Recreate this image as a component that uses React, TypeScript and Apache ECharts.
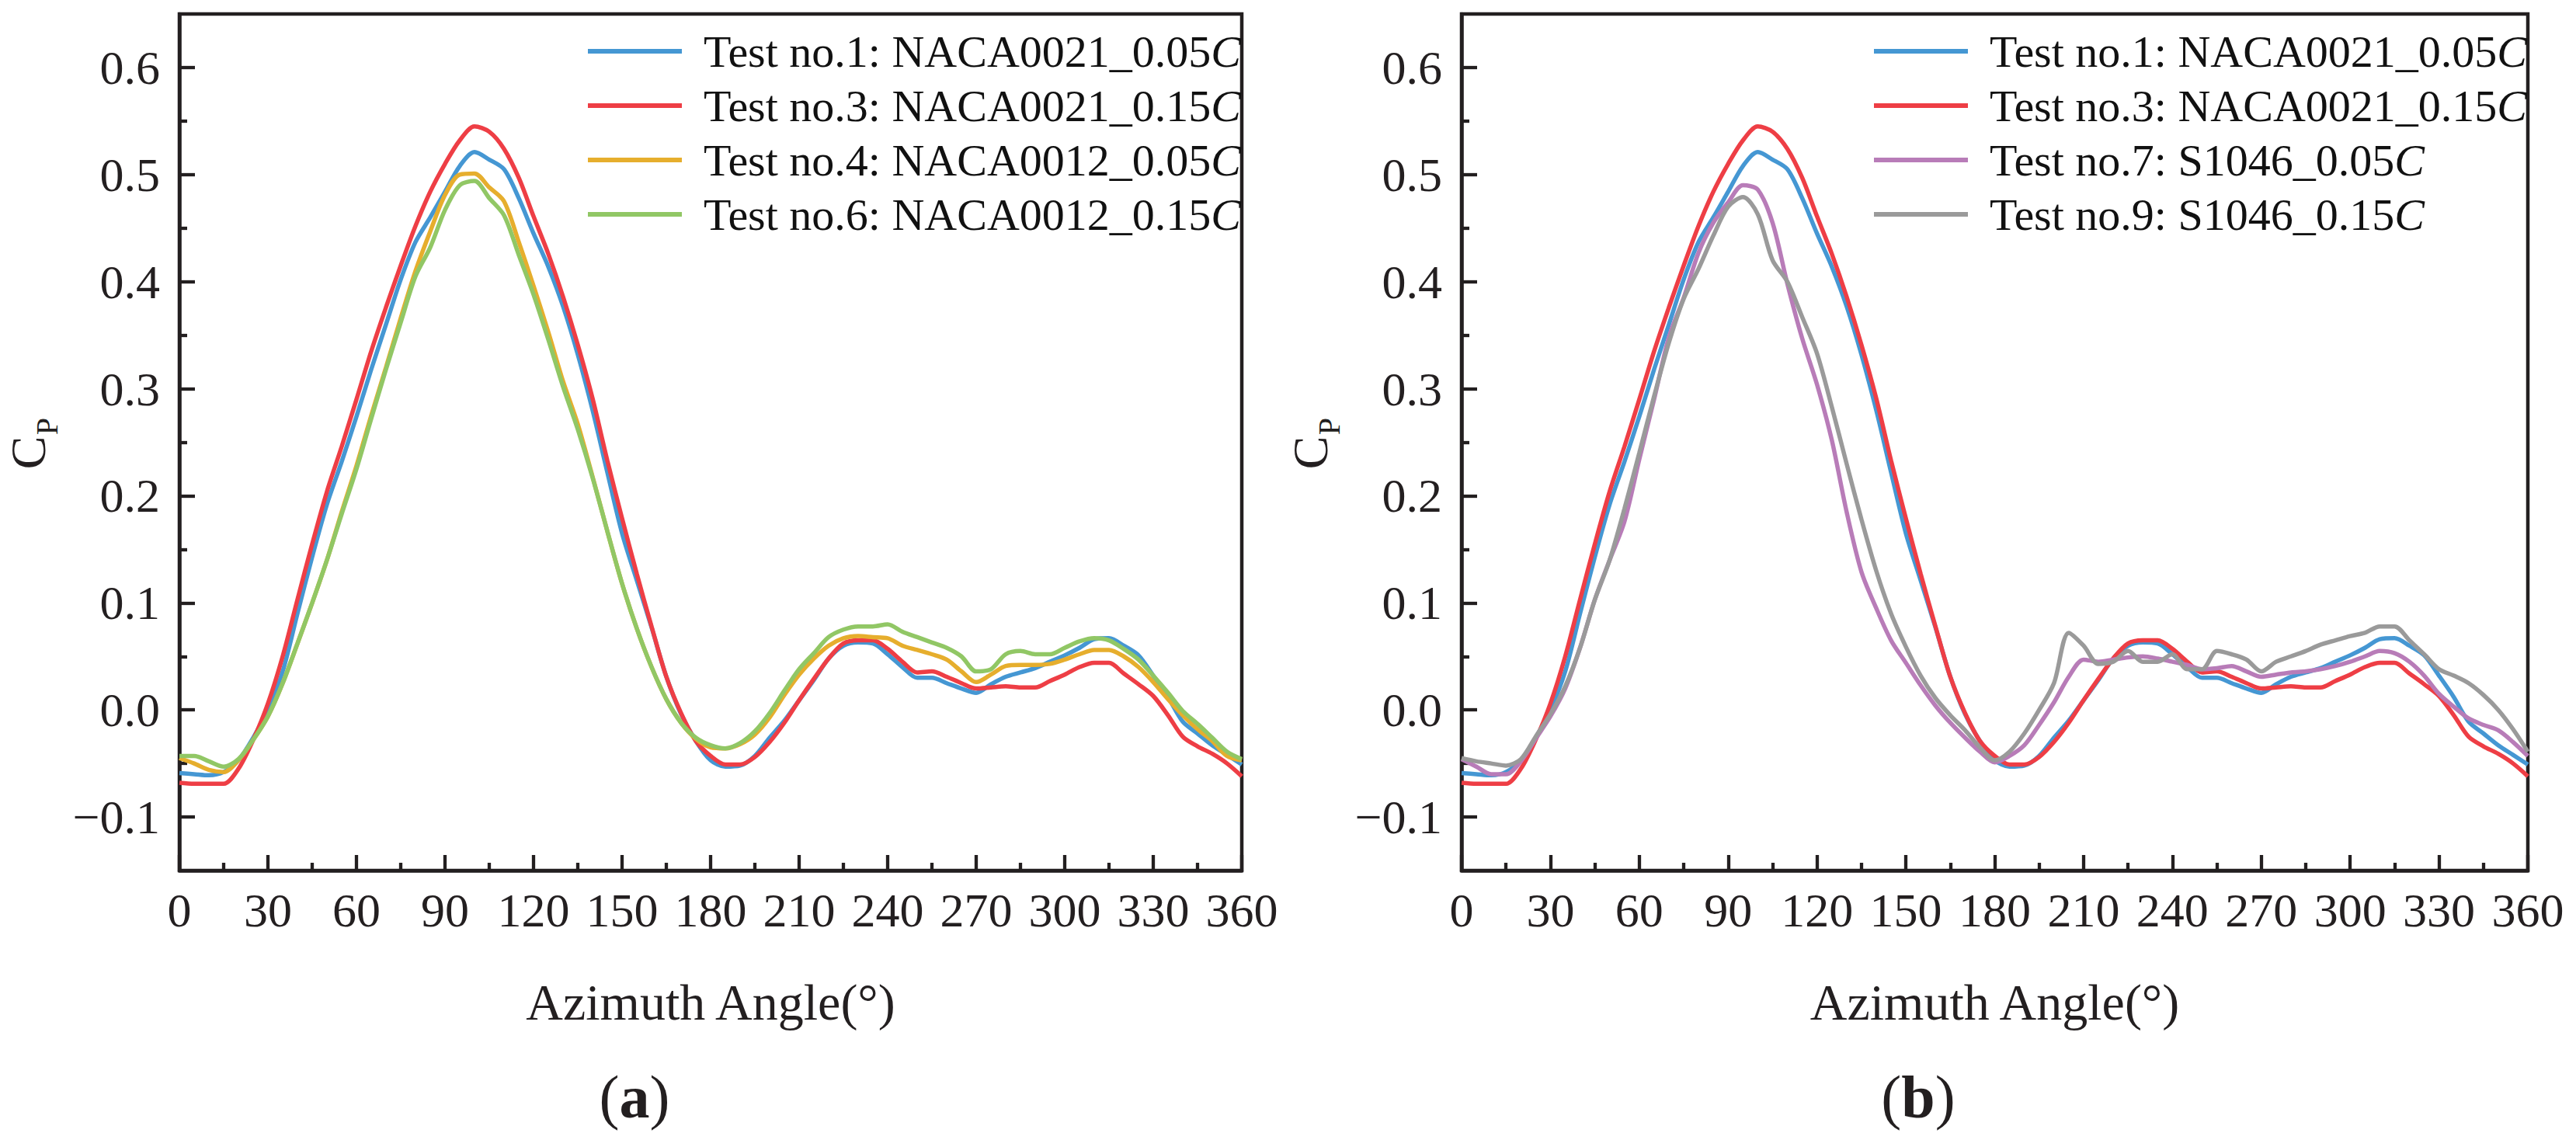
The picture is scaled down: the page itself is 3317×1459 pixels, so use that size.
import React, { useEffect, useRef } from "react";
import * as echarts from "echarts";

// ---------- data ----------
const ANGLES = [
  0, 5, 10, 15, 20, 25, 30, 35, 40, 45, 50, 55, 60, 65, 70, 75, 80, 85, 90, 95,
  100, 105, 110, 115, 120, 125, 130, 135, 140, 145, 150, 155, 160, 165, 170, 175,
  180, 185, 190, 195, 200, 205, 210, 215, 220, 225, 230, 235, 240, 245, 250, 255,
  260, 265, 270, 275, 280, 285, 290, 295, 300, 305, 310, 315, 320, 325, 330, 335,
  340, 345, 350, 355, 360,
];

const TEST1 = [
  -0.059, -0.06, -0.061, -0.058, -0.047, -0.026, 0.0, 0.036, 0.09, 0.143, 0.192, 0.232,
  0.274, 0.318, 0.36, 0.402, 0.437, 0.46, 0.484, 0.508, 0.521, 0.514, 0.505, 0.478,
  0.445, 0.414, 0.377, 0.332, 0.28, 0.222, 0.165, 0.121, 0.077, 0.031, -0.004, -0.029,
  -0.047, -0.053, -0.052, -0.043, -0.026, -0.01, 0.009, 0.028, 0.048, 0.06, 0.063, 0.062,
  0.052, 0.04, 0.03, 0.03, 0.025, 0.02, 0.016, 0.024, 0.031, 0.035, 0.039, 0.045,
  0.051, 0.058, 0.066, 0.067, 0.06, 0.051, 0.032, 0.012, -0.011, -0.022, -0.033, -0.042,
  -0.051,
];

const TEST3 = [
  -0.068, -0.069, -0.069, -0.069, -0.055, -0.028, 0.006, 0.05, 0.103, 0.155, 0.204, 0.246,
  0.29, 0.335, 0.376, 0.415, 0.452, 0.484, 0.51, 0.532, 0.545, 0.54, 0.524, 0.497,
  0.461, 0.426, 0.386, 0.341, 0.291, 0.233, 0.179, 0.127, 0.078, 0.031, -0.003, -0.029,
  -0.043, -0.051, -0.051, -0.044, -0.03, -0.012, 0.009, 0.029, 0.048, 0.062, 0.065, 0.065,
  0.057, 0.045, 0.035, 0.036, 0.031, 0.025, 0.02, 0.021, 0.022, 0.021, 0.021, 0.027,
  0.033, 0.04, 0.044, 0.044, 0.034, 0.024, 0.013, -0.005, -0.025, -0.034, -0.041, -0.05,
  -0.062,
];

const TEST4 = [
  -0.045, -0.05, -0.056, -0.058, -0.047, -0.028, -0.006, 0.025, 0.062, 0.1, 0.14, 0.185,
  0.228, 0.275, 0.32, 0.366, 0.41, 0.447, 0.481, 0.5, 0.501, 0.488, 0.475, 0.437,
  0.396, 0.353, 0.307, 0.267, 0.218, 0.167, 0.118, 0.076, 0.04, 0.01, -0.012, -0.027,
  -0.035, -0.036, -0.032, -0.023, -0.007, 0.014, 0.033, 0.048, 0.06, 0.067, 0.069, 0.068,
  0.067, 0.06, 0.056, 0.052, 0.047, 0.036, 0.026, 0.033, 0.041, 0.042, 0.042, 0.043,
  0.047, 0.052, 0.056, 0.056, 0.05, 0.04, 0.026, 0.01, -0.005, -0.018, -0.029, -0.043,
  -0.047,
];

const TEST6 = [
  -0.043, -0.043, -0.048, -0.053, -0.046, -0.028, -0.006, 0.025, 0.062, 0.1, 0.14, 0.183,
  0.225, 0.272, 0.318, 0.362, 0.405, 0.432, 0.467, 0.49, 0.494, 0.478, 0.462, 0.425,
  0.388, 0.346, 0.302, 0.262, 0.217, 0.167, 0.118, 0.076, 0.04, 0.01, -0.012, -0.026,
  -0.033, -0.036, -0.031, -0.02, -0.003, 0.018, 0.038, 0.053, 0.068, 0.075, 0.078, 0.078,
  0.08, 0.073, 0.068, 0.063, 0.058, 0.05, 0.036, 0.038, 0.052, 0.055, 0.052, 0.052,
  0.058, 0.064, 0.067, 0.065, 0.057, 0.047, 0.032, 0.016, -0.001, -0.013, -0.026, -0.039,
  -0.046,
];

const TEST7 = [
  -0.046, -0.053, -0.06, -0.06, -0.048, -0.027, -0.006, 0.02, 0.058, 0.103, 0.14, 0.176,
  0.234, 0.29, 0.348, 0.385, 0.427, 0.455, 0.474, 0.49, 0.486, 0.455, 0.398, 0.347,
  0.304, 0.252, 0.185, 0.129, 0.095, 0.065, 0.044, 0.023, 0.004, -0.012, -0.026, -0.039,
  -0.049, -0.043, -0.033, -0.014, 0.007, 0.031, 0.047, 0.045, 0.047, 0.049, 0.05, 0.048,
  0.045, 0.042, 0.038, 0.039, 0.041, 0.036, 0.031, 0.033, 0.035, 0.036, 0.038, 0.041,
  0.045, 0.05, 0.055, 0.053, 0.045, 0.032, 0.015, 0.003, -0.008, -0.014, -0.019, -0.03,
  -0.043,
];

const TEST9 = [
  -0.045, -0.048, -0.05, -0.052, -0.046, -0.025, -0.004, 0.022, 0.058, 0.103, 0.14, 0.188,
  0.24, 0.293, 0.343, 0.384, 0.412, 0.443, 0.47, 0.479, 0.463, 0.42, 0.4, 0.367,
  0.333, 0.283, 0.23, 0.178, 0.13, 0.09, 0.059, 0.032, 0.011, -0.005, -0.019, -0.035,
  -0.047, -0.039, -0.022, 0.0, 0.025, 0.072, 0.06, 0.043, 0.045, 0.055, 0.045, 0.045,
  0.052, 0.038, 0.038, 0.055, 0.052, 0.047, 0.036, 0.045, 0.05, 0.055, 0.061, 0.065,
  0.069, 0.072, 0.078, 0.078, 0.065, 0.052, 0.038, 0.032, 0.025, 0.014, 0.0, -0.018,
  -0.039,
];

const NAMES = {
  t1: "Test no.1: NACA0021_0.05C",
  t3: "Test no.3: NACA0021_0.15C",
  t4: "Test no.4: NACA0012_0.05C",
  t6: "Test no.6: NACA0012_0.15C",
  t7: "Test no.7: S1046_0.05C",
  t9: "Test no.9: S1046_0.15C",
};

const COLORS = {
  t1: "#4597d3",
  t3: "#ee3e45",
  t4: "#e6ae2d",
  t6: "#91c765",
  t7: "#b87cb8",
  t9: "#9a9a9a",
};

const X_LABELS = [0, 30, 60, 90, 120, 150, 180, 210, 240, 270, 300, 330, 360];
const Y_MAJOR = [-0.1, 0, 0.1, 0.2, 0.3, 0.4, 0.5, 0.6];
const Y_MINOR = [-0.05, 0.05, 0.15, 0.25, 0.35, 0.45, 0.55];

const PANEL_A = ["t1", "t3", "t4", "t6"];
const PANEL_B = ["t1", "t3", "t7", "t9"];
const VALUES: Record<string, number[]> = {
  t1: TEST1,
  t3: TEST3,
  t4: TEST4,
  t6: TEST6,
  t7: TEST7,
  t9: TEST9,
};

// ---------- styling ----------
const FONT = "'Liberation Serif', 'Times New Roman', serif";
const INK = "#231f20";
const AXW = 4.5;

function yFmt(v: number) {
  const s = Math.abs(v).toFixed(1);
  return v < -1e-9 ? "\u2212" + s : s;
}

function buildOption() {
  const grids = [
    { left: 231, top: 18, width: 1368, height: 1103 },
    { left: 1882, top: 18, width: 1373, height: 1103 },
  ];
  const xAxes: any[] = [];
  const yAxes: any[] = [];
  grids.forEach((g, gi) => {
    xAxes.push({
      type: "value",
      gridIndex: gi,
      min: 0,
      max: 360,
      interval: 30,
      name: "Azimuth Angle(°)",
      nameLocation: "middle",
      nameGap: 136,
      nameTextStyle: { fontFamily: FONT, fontSize: 66, color: INK },
      axisLine: { show: true, onZero: false, lineStyle: { color: INK, width: AXW } },
      axisTick: { show: true, inside: true, length: 20, lineStyle: { color: INK, width: 4.3 } },
      minorTick: { show: true, splitNumber: 2, length: 10, lineStyle: { color: INK, width: 4.3 } },
      splitLine: { show: false },
      axisLabel: {
        show: true,
        margin: 20,
        fontFamily: FONT,
        fontSize: 62,
        color: INK,
        customValues: X_LABELS,
        formatter: (v: number) => String(Math.round(v)),
      },
    });
    yAxes.push({
      type: "value",
      gridIndex: gi,
      min: -0.15,
      max: 0.65,
      interval: 0.05,
      position: "left",
      axisLine: { show: true, onZero: false, lineStyle: { color: INK, width: AXW } },
      axisTick: {
        show: true,
        inside: true,
        length: 20,
        customValues: Y_MAJOR,
        lineStyle: { color: INK, width: 4.3 },
      },
      splitLine: { show: false },
      axisLabel: {
        show: true,
        margin: 25,
        fontFamily: FONT,
        fontSize: 62,
        color: INK,
        customValues: Y_MAJOR,
        formatter: yFmt,
      },
    });
    yAxes.push({
      type: "value",
      gridIndex: gi,
      min: -0.15,
      max: 0.65,
      interval: 0.05,
      position: "left",
      axisLine: { show: false },
      axisLabel: { show: false },
      splitLine: { show: false },
      axisTick: {
        show: true,
        inside: true,
        length: 10,
        customValues: Y_MINOR,
        lineStyle: { color: INK, width: 4.3 },
      },
    });
  });

  const mkSeries = (keys: string[], gi: number) =>
    keys.map((k) => ({
      type: "line",
      name: NAMES[k as keyof typeof NAMES],
      xAxisIndex: gi,
      yAxisIndex: gi * 2,
      data: ANGLES.map((a, i) => [a, VALUES[k][i]]),
      symbol: "none",
      showSymbol: false,
      smooth: 0.3,
      color: COLORS[k as keyof typeof COLORS],
      lineStyle: { width: 5.5, color: COLORS[k as keyof typeof COLORS] },
      z: 2,
    }));

  const legendText = {
    fontFamily: FONT,
    fontSize: 58,
    color: "#111111",
    padding: [0, 0, 0, 23],
    rich: {
      n: { fontFamily: FONT, fontSize: 58, color: "#111111" },
      i: { fontFamily: FONT, fontSize: 58, fontStyle: "italic", color: "#111111" },
    },
  };
  const legendFmt = (name: string) => `{n|${name.slice(0, -1)}}{i|${name.slice(-1)}}`;

  const mkLegend = (keys: string[], left: number) => ({
    show: true,
    orient: "vertical",
    left,
    top: 32,
    icon: "rect",
    itemWidth: 121,
    itemHeight: 6,
    itemGap: 12,
    selectedMode: false,
    data: keys.map((k) => NAMES[k as keyof typeof NAMES]),
    formatter: legendFmt,
    textStyle: legendText,
  });

  const cp = (cx: number) => [
    {
      type: "text",
      x: cx,
      y: 583,
      rotation: Math.PI / 2,
      style: {
        text: "C",
        fontFamily: FONT,
        fontSize: 64,
        fill: INK,
        textAlign: "center",
        textVerticalAlign: "middle",
      },
    },
    {
      type: "text",
      x: cx + 24,
      y: 549,
      rotation: Math.PI / 2,
      style: {
        text: "P",
        fontFamily: FONT,
        fontSize: 40,
        fill: INK,
        textAlign: "center",
        textVerticalAlign: "middle",
      },
    },
  ];
  const panelTag = (cx: number, letter: string) => ({
    type: "text",
    x: cx,
    y: 1412,
    style: {
      text: `{p|(}{b|${letter}}{p|)}`,
      rich: {
        p: { fontFamily: FONT, fontSize: 78, fill: INK },
        b: { fontFamily: FONT, fontSize: 78, fontWeight: "bold", fill: INK },
      },
      textAlign: "center",
      textVerticalAlign: "middle",
    },
  });

  return {
    animation: false,
    backgroundColor: "#ffffff",
    textStyle: { fontFamily: FONT },
    grid: grids.map((g) => ({
      ...g,
      show: true,
      borderColor: INK,
      borderWidth: AXW,
      backgroundColor: "transparent",
      containLabel: false,
    })),
    xAxis: xAxes,
    yAxis: yAxes,
    legend: [mkLegend(PANEL_A, 752), mkLegend(PANEL_B, 2408)],
    series: [...mkSeries(PANEL_A, 0), ...mkSeries(PANEL_B, 1)],
    graphic: [...cp(36.5), ...cp(1687.5), panelTag(817, "a"), panelTag(2470, "b")],
  };
}

export default function App() {
  const ref = useRef<HTMLDivElement>(null);
  useEffect(() => {
    if (!ref.current) return;
    const chart = echarts.init(ref.current, null, { renderer: "svg" });
    chart.setOption(buildOption() as any);
    return () => chart.dispose();
  }, []);
  return (
    <div
      ref={ref}
      style={{ position: "fixed", left: 0, top: 0, width: 3317, height: 1459, background: "#fff" }}
    />
  );
}
